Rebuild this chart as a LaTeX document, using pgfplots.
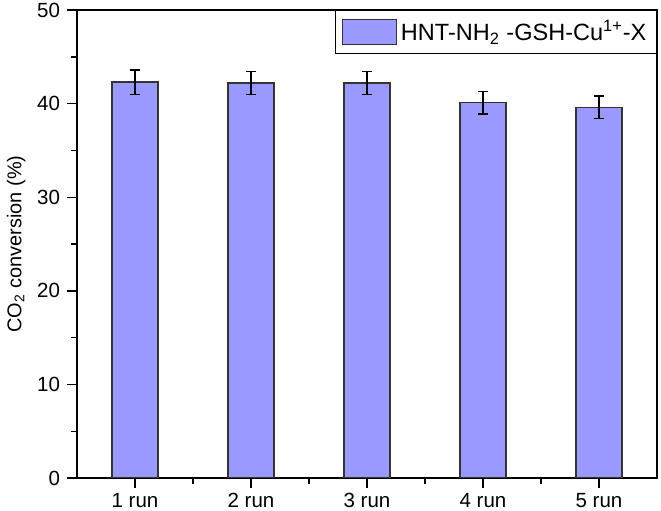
\documentclass[border=0pt]{standalone}
\usepackage{fontspec}
\setmainfont{Liberation Sans}
\usepackage{pgfplots}
\pgfplotsset{compat=1.18}
\definecolor{barfill}{HTML}{9999FF}
\begin{document}
\begin{tikzpicture}
\useasboundingbox (-38.5bp,-16.5bp) rectangle (292bp,239bp);
\begin{axis}[
  at={(0,0)}, anchor=south west,
  scale only axis,
  width=290bp, height=234bp,
  xmin=0.5, xmax=5.5,
  ymin=0, ymax=50,
  xtick={1,2,3,4,5},
  xticklabels={1 run,2 run,3 run,4 run,5 run},
  minor xtick={1.5,2.5,3.5,4.5},
  ytick={0,10,20,30,40,50},
  minor ytick={5,15,25,35,45},
  tick align=outside,
  xtick pos=bottom, ytick pos=left,
  major tick length=5bp, minor tick length=3bp,
  every tick/.style={black, line width=0.7pt},
  axis line style={line width=0.8pt},
  /pgf/number format/assume math mode=true,
  tick label style={font=\fontsize{10.3}{11}\selectfont},
  xticklabel style={yshift=1bp},
  ylabel={CO\textsubscript{2} conversion (\%)},
  ylabel style={font=\fontsize{13.3}{14}\selectfont},
  every axis y label/.style={at={(ticklabel cs:0.5)}, rotate=90, anchor=south, yshift=-1bp},
  legend style={at={(1,1)}, anchor=north east, draw=black, line width=0.6pt,
    font=\fontsize{11.8}{12}\selectfont, inner xsep=3bp, inner ysep=3bp},
  legend image code/.code={\draw[#1] (0bp,-6.25bp) rectangle (27bp,6.25bp);},
]
\addplot[ybar, bar width=23bp, fill=barfill, draw=black!80, line width=0.6pt,
  error bars/.cd, y dir=both, y explicit,
  error bar style={black, line width=0.7pt},
  error mark options={rotate=90, mark size=2.5bp, black, line width=0.7pt}]
  coordinates {
  (1,42.3) +- (0,1.3)
  (2,42.2) +- (0,1.25)
  (3,42.2) +- (0,1.25)
  (4,40.1) +- (0,1.2)
  (5,39.6) +- (0,1.2)
};
\addlegendentry{HNT-NH\textsubscript{2} -GSH-Cu\textsuperscript{1+}-X}
\end{axis}
\end{tikzpicture}
\end{document}
